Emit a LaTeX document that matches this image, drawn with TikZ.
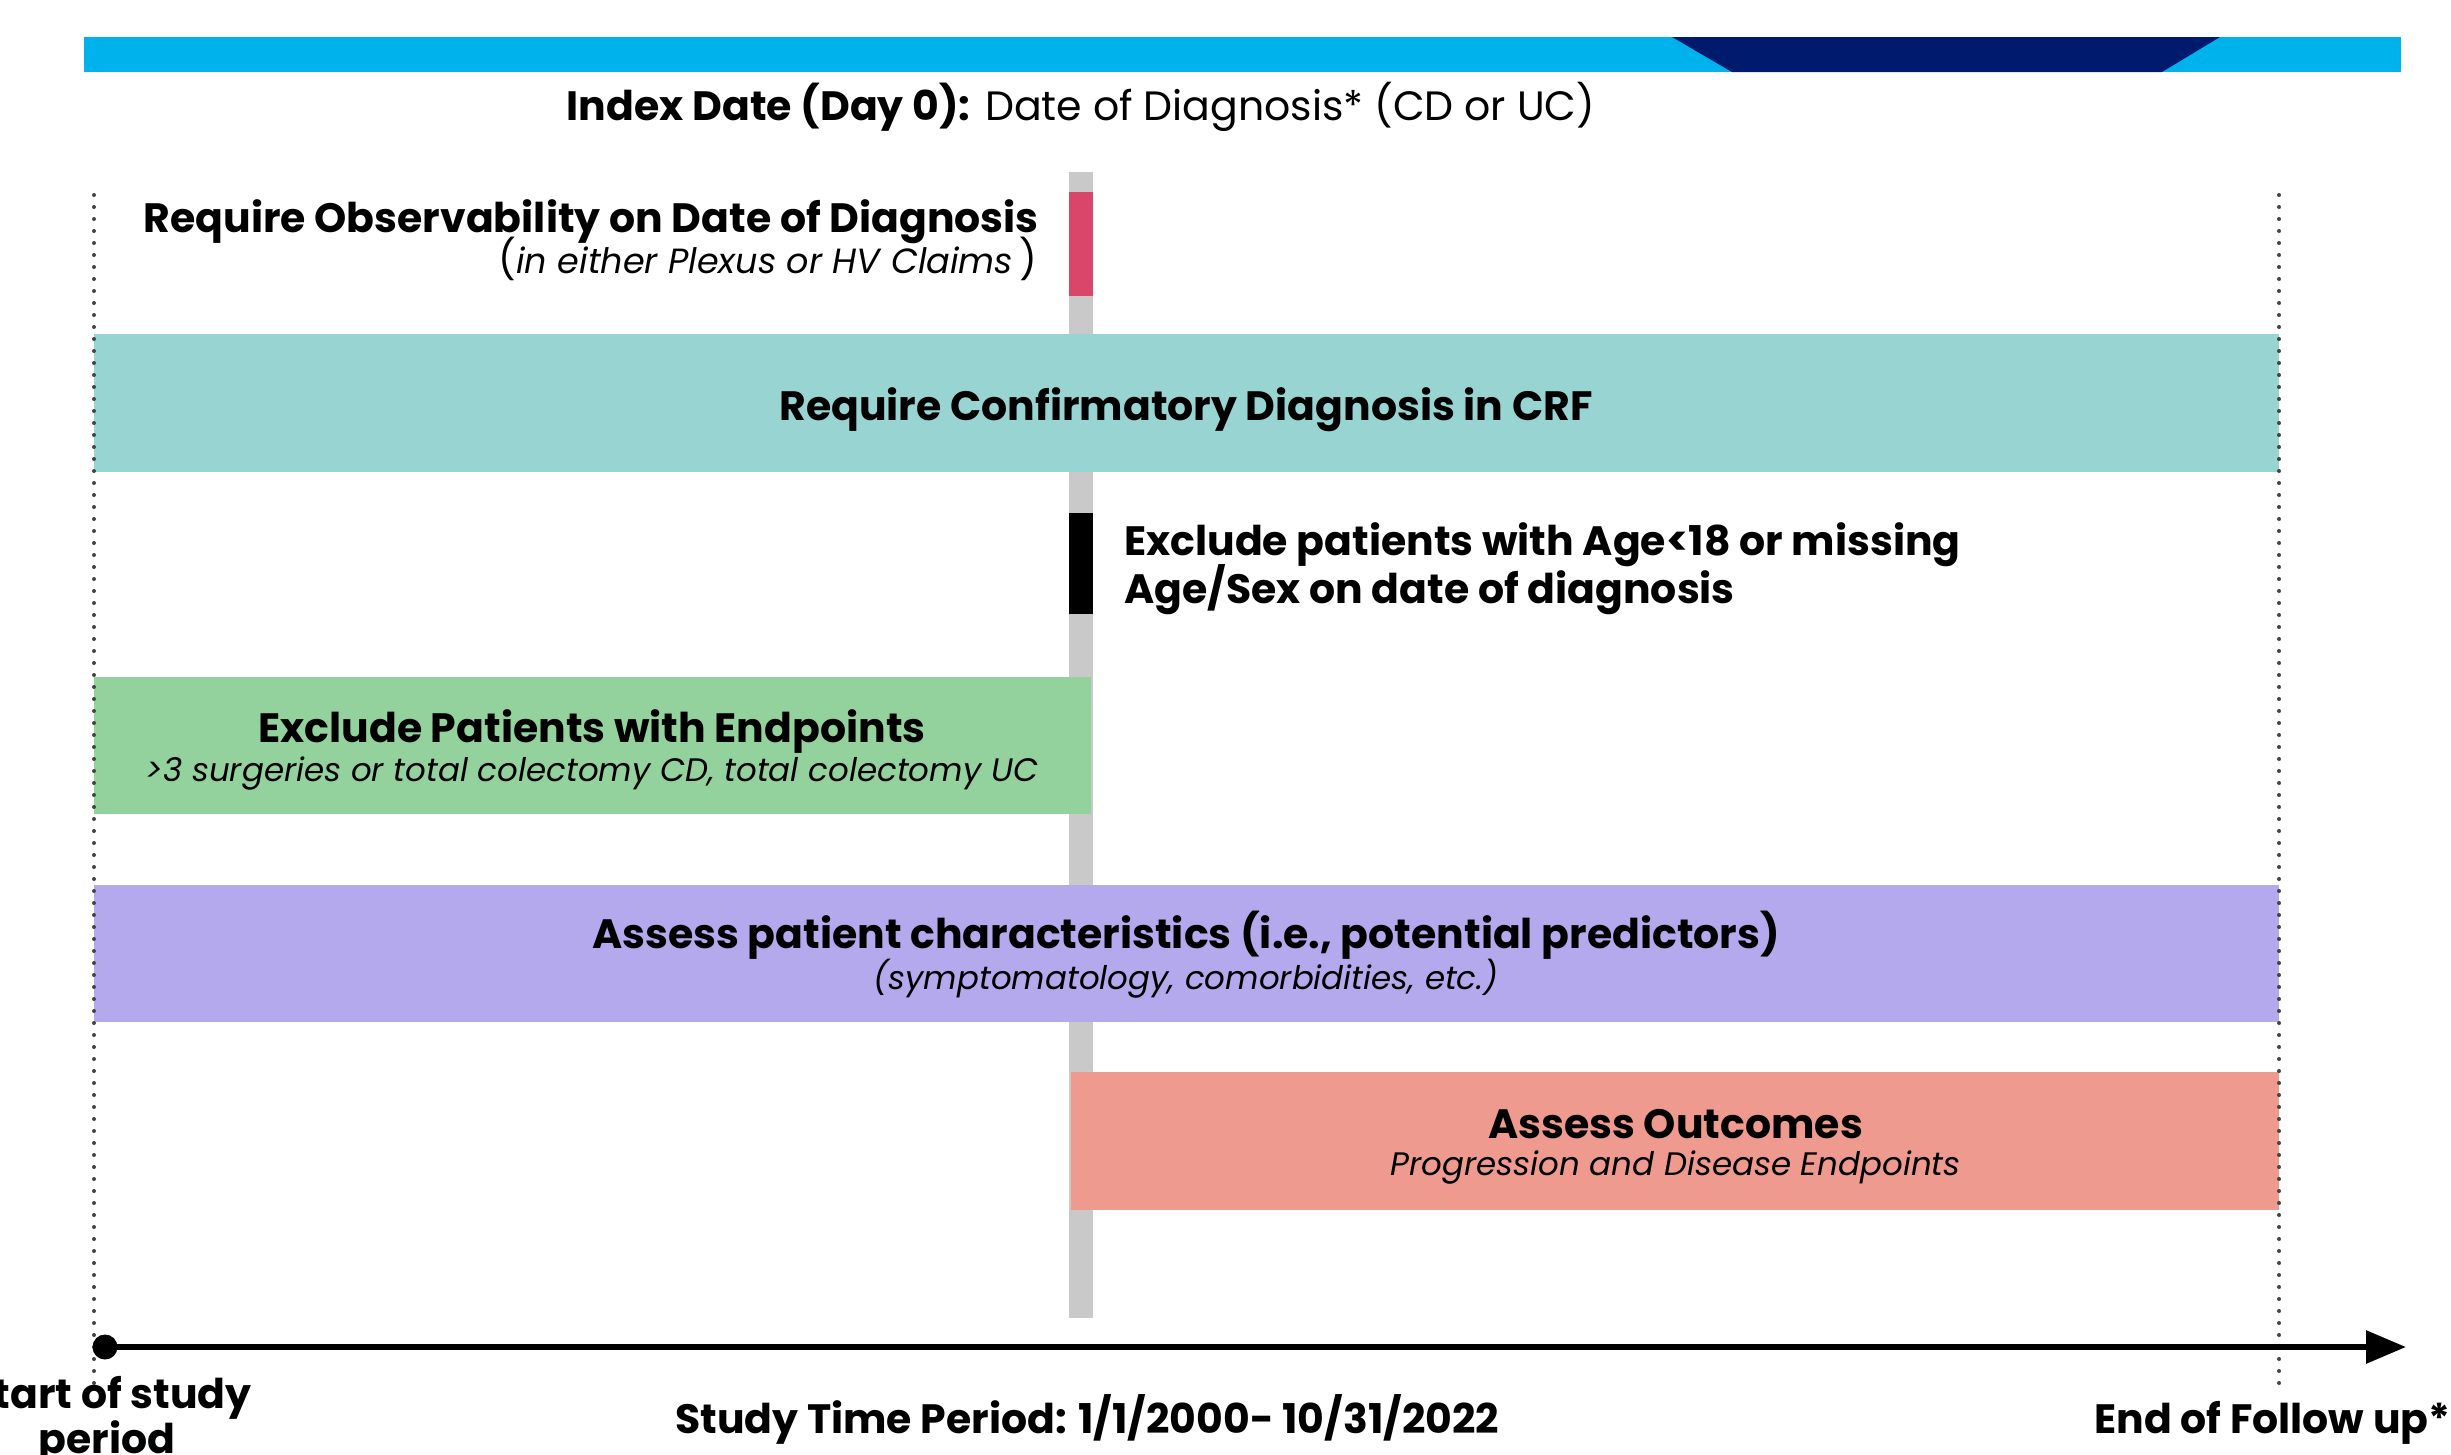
\documentclass[tikz,border=0pt]{standalone}
\usepackage{fontspec}
\setmainfont{Poppins}
\usetikzlibrary{arrows.meta}
\definecolor{barblue}{HTML}{00B2EC}
\definecolor{navy}{HTML}{001A6E}
\definecolor{tealband}{HTML}{98D4D2}
\definecolor{pinkseg}{HTML}{D9466A}
\definecolor{greybar}{HTML}{C9C9C9}
\definecolor{greenband}{HTML}{93D29D}
\definecolor{purpleband}{HTML}{B4A9EC}
\definecolor{salmonband}{HTML}{EE9A8E}
\definecolor{dotgrey}{HTML}{444444}
\tikzset{
  band/.style={draw=none, inner sep=0pt},
  bigb/.style={font=\fontsize{41}{48}\selectfont\bfseries, inner sep=0pt},
  smalli/.style={font=\fontsize{32.5}{38}\selectfont\itshape, inner sep=0pt},
  dotline/.style={draw=dotgrey, line width=4pt, line cap=round, dash pattern=on 0pt off 12pt},
}
\begin{document}
\begin{tikzpicture}[x=1pt,y=-1pt]
\useasboundingbox (0,0) rectangle (2451,1454);
% top banner
\fill[barblue] (84,37) rectangle (2401,72);
\fill[navy] (1672,37) -- (2220,37) -- (2162,72) -- (1732,72) -- cycle;
% index date
\node[anchor=base, inner sep=0pt, font=\fontsize{41}{48}\selectfont] (idx) at (1081,120)
  {\textbf{Index Date (Day 0):} Date of Diagnosis* (CD or UC)};
% grey index bar
\fill[greybar] (1069,172) rectangle (1093,1318);
\fill[pinkseg] (1069,192) rectangle (1093,296);
\fill[black] (1069,513) rectangle (1093,614);
% observability
\node[bigb, anchor=base east] (obs1) at (1039,232) {Require Observability on Date of Diagnosis};
\node[inner sep=0pt, font=\fontsize{35}{42}\selectfont\itshape, anchor=base east] (obs2) at (1037,273)
  {{\fontsize{39}{42}\selectfont\upshape(}in either Plexus or HV Claims\,{\fontsize{39}{42}\selectfont\upshape)}};
% bands
\node[band, fill=tealband, minimum width=2185pt, minimum height=138pt] (crf) at (1186.5,403) {};
\node[bigb, anchor=base] (crft) at (1186,420.4) {Require Confirmatory Diagnosis in CRF};
\node[bigb, anchor=base west] (age1) at (1124,555) {Exclude patients with Age<18 or missing};
\node[bigb, anchor=base west] (age2) at (1124,603.3) {Age/Sex on date of diagnosis};
\node[band, fill=greenband, minimum width=997pt, minimum height=137pt] (endp) at (592.5,745.5) {};
\node[bigb, anchor=base] (endp1) at (592,742.4) {Exclude Patients with Endpoints};
\node[smalli, anchor=base] (endp2) at (592,781.5) {>3 surgeries or total colectomy CD, total colectomy UC};
\node[band, fill=purpleband, minimum width=2185pt, minimum height=137pt] (char) at (1186.5,953.5) {};
\node[bigb, anchor=base] (char1) at (1186,948.8) {Assess patient characteristics (i.e., potential predictors)};
\node[smalli, anchor=base] (char2) at (1186,989.5) {(symptomatology, comorbidities, etc.)};
\node[band, fill=salmonband, minimum width=1208pt, minimum height=138pt] (outc) at (1675,1141) {};
\node[bigb, anchor=base] (outc1) at (1675.6,1138) {Assess Outcomes};
\node[smalli, anchor=base] (outc2) at (1675.6,1175.5) {Progression and Disease Endpoints};
% dotted boundaries
\coordinate (lt) at (94,195); \coordinate (lb) at (94,1392);
\coordinate (rt) at (2279,195); \coordinate (rb) at (2279,1392);
\draw[dotline] (lt) -- (lb);
\draw[dotline] (rt) -- (rb);
% axis
\node[circle, fill=black, inner sep=0pt, minimum size=25pt] (start) at (105,1347) {};
\coordinate (axend) at (2406,1347);
\draw[line width=6pt, -{Triangle[length=40pt,width=32pt]}] (start.center) -- (axend);
% axis labels
\node[bigb, anchor=base] (st1) at (110,1408) {Start of study};
\node[bigb, anchor=base] (st2) at (107,1453.6) {period};
\node[bigb, anchor=base west] (per) at (675,1433.3) {Study Time Period: 1/1/2000- 10/31/2022};
\node[bigb, anchor=base west] (fol) at (2094,1433.3) {End of Follow up**};
\end{tikzpicture}
\end{document}
